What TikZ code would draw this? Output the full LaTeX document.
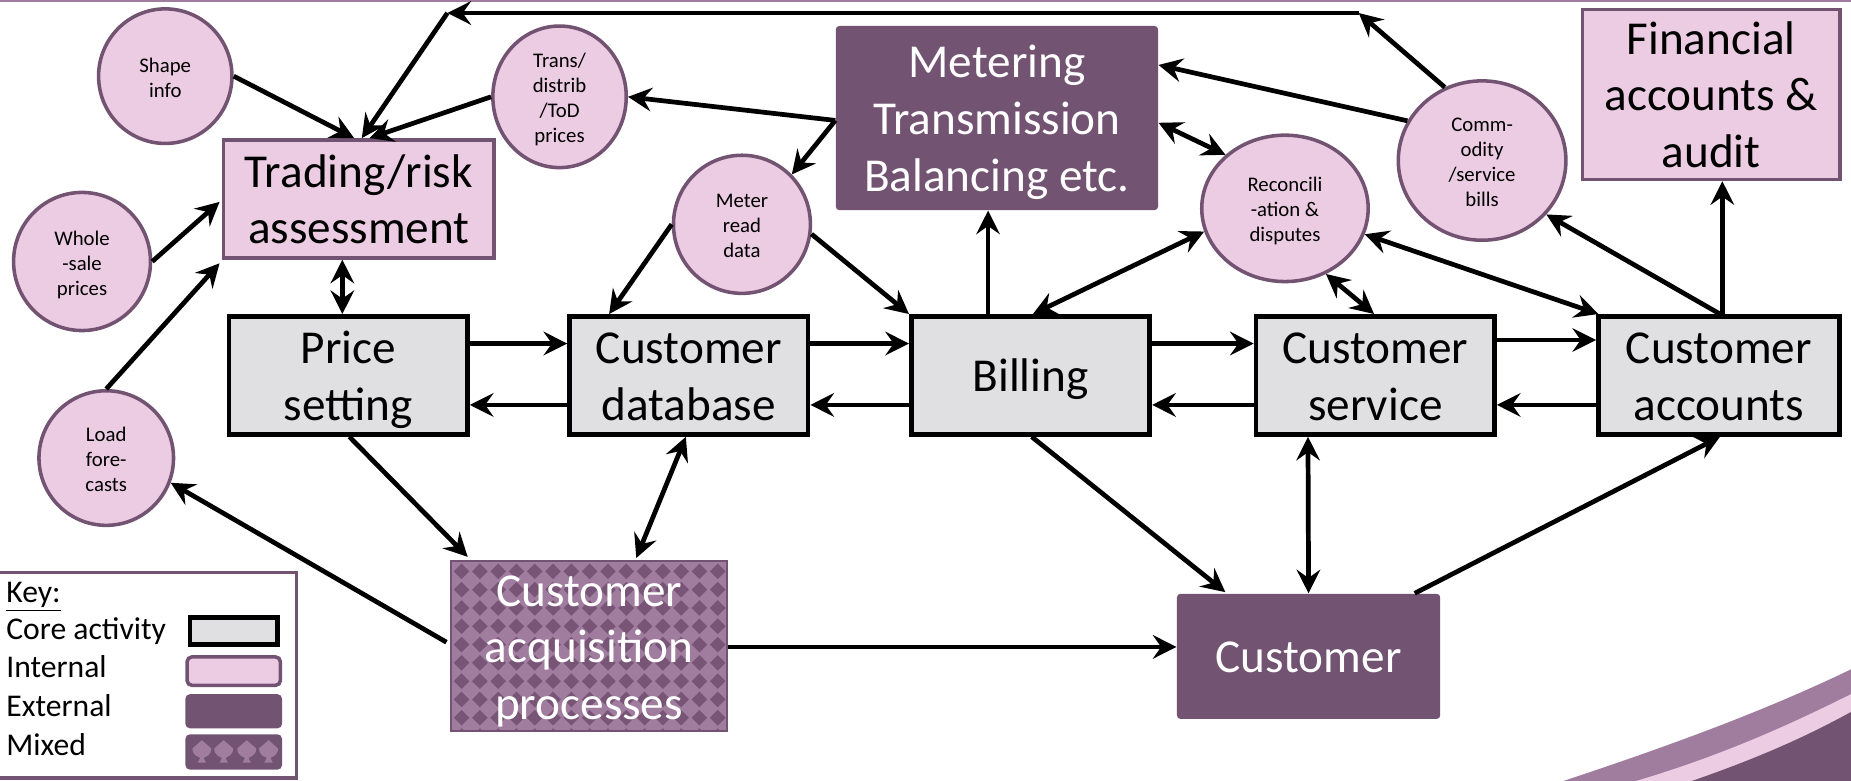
\documentclass[tikz,border=0pt]{standalone}
\usepackage{fontspec}
\setmainfont{Carlito}
\usetikzlibrary{shapes.geometric,arrows.meta,calc}
\definecolor{purpd}{RGB}{115,83,114}
\definecolor{pinkf}{RGB}{236,204,227}
\definecolor{coreg}{RGB}{224,224,226}
\definecolor{lightp}{RGB}{160,125,159}
\definecolor{dkdia}{RGB}{120,84,118}
\newcommand{\fbig}{\fontsize{20}{24}\selectfont}
\newcommand{\fsmall}{\fontsize{8.8}{10.6}\selectfont}
\newcommand{\fkey}{\fontsize{13.4}{16.4}\selectfont}
\newcommand{\ml}[1]{\raisebox{-2.2pt}[\height][\depth]{\begin{tabular}{@{}c@{}}#1\end{tabular}}}
\newcommand{\mlb}[1]{\raisebox{-1.5pt}[\height][\depth]{\begin{tabular}{@{}c@{}}#1\end{tabular}}}
\begin{document}
\begin{tikzpicture}[x=0.5pt,y=-0.5pt,
  core/.style={rectangle,draw=black,line width=2pt,fill=coreg,inner sep=0pt,font=\fbig},
  intbox/.style={rectangle,draw=purpd,line width=1.5pt,fill=pinkf,inner sep=0pt,font=\fbig},
  extbox/.style={rectangle,fill=purpd,text=white,rounded corners=1.5pt,inner sep=0pt,font=\fbig},
  bubble/.style={ellipse,draw=purpd,line width=1.5pt,fill=pinkf,inner sep=0pt,font=\fsmall},
  keytxt/.style={anchor=base west,inner sep=0pt,font=\fkey},
  arr/.style={line width=2pt,-{Stealth[length=10pt,width=10pt,inset=3.5pt]}},
  darr/.style={line width=2pt,{Stealth[length=10pt,width=10pt,inset=3.5pt]}-{Stealth[length=10pt,width=10pt,inset=3.5pt]}},
  mixedbox/.style={rectangle,fill=lightp,draw=purpd,line width=0.8pt,text=white,inner sep=0pt,font=\fbig,
    path picture={
      \foreach \r in {-1,...,10}{
        \foreach \c in {-1,...,16}{
          \pgfmathsetmacro\xx{9+\c*15.5}
          \pgfmathsetmacro\yy{8.5+\r*15.5}
          \fill[dkdia] ($(path picture bounding box.north west)+(\xx,\yy-6.6)$)
            -- ($(path picture bounding box.north west)+(\xx+6.6,\yy)$)
            -- ($(path picture bounding box.north west)+(\xx,\yy+6.6)$)
            -- ($(path picture bounding box.north west)+(\xx-6.6,\yy)$) -- cycle;
        }
      }
    }}
]
\useasboundingbox (0,0) rectangle (1568,661);
\fill[white] (0,0) rectangle (1568,661);
% top rule
\draw[lightp,line width=0.8pt] (0,0.8) -- (1568,0.8);
% bottom-right swoosh
\fill[lightp] (1320,663) .. controls (1420,630) and (1500,600) .. (1570,566) -- (1570,663) -- cycle;
\fill[pinkf] (1381,663) .. controls (1460,640) and (1520,612) .. (1570,587) -- (1570,663) -- cycle;
\fill[purpd] (1429,663) .. controls (1490,642) and (1530,624) .. (1570,602) -- (1570,663) -- cycle;

% core activities
\node[core,minimum width=101pt,minimum height=50pt] (price) at (295,318) {\ml{Price\\setting}};
\node[core,minimum width=101pt,minimum height=50pt] (db) at (583.5,318) {\ml{Customer\\database}};
\node[core,minimum width=101pt,minimum height=50pt] (billing) at (873,318) {\ml{Billing}};
\node[core,minimum width=101pt,minimum height=50pt] (cs) at (1165,318) {\ml{Customer\\service}};
\node[core,minimum width=102pt,minimum height=50pt] (acc) at (1456,318) {\ml{Customer\\accounts}};
% internal boxes
\node[intbox,minimum width=114.5pt,minimum height=50pt] (trading) at (304,168.5) {\ml{Trading/risk\\assessment}};
\node[intbox,minimum width=109pt,minimum height=66.5pt] (financial) at (1449.5,80) {\ml{Financial\\accounts \&\\audit}};
% external
\node[extbox,minimum width=136.5pt,minimum height=78pt] (metering) at (844.5,100) {\ml{Metering\\Transmission\\Balancing etc.}};
\node[extbox,minimum width=111.5pt,minimum height=53pt] (customer) at (1108.5,556) {\ml{Customer}};
% mixed
\node[mixedbox,minimum width=117pt,minimum height=68.5pt] (acq) at (499,547.5) {\ml{Customer\\acquisition\\processes}};
% bubbles
\node[bubble,minimum width=56.5pt,minimum height=57pt] (shape) at (140,64.5) {\mlb{Shape\\info}};
\node[bubble,minimum width=56.5pt,minimum height=57pt] (trans) at (474,82) {\mlb{Trans/\\distrib\\/ToD\\prices}};
\node[bubble,minimum width=58pt,minimum height=58.5pt] (whole) at (69.5,221.5) {\mlb{Whole\\-sale\\prices}};
\node[bubble,minimum width=57pt,minimum height=57pt] (load) at (90,388) {\mlb{Load\\fore-\\casts}};
\node[bubble,minimum width=58pt,minimum height=58.5pt] (meter) at (628.5,190) {\mlb{Meter\\read\\data}};
\node[bubble,minimum width=70.5pt,minimum height=62pt] (recon) at (1088.5,176.5) {\mlb{Reconcili\\-ation \&\\disputes}};
\node[bubble,minimum width=71pt,minimum height=67.5pt] (comm) at (1255.5,136) {\mlb{Comm-\\odity\\/service\\bills}};

\coordinate (TL) at (379,11);
\coordinate (TR) at (1151,11);

% connectors
\draw[arr] (comm.117) -- (TR);
\draw[arr] (TR) -- (TL);
\draw[arr] (TL) -- ($(trading.north)+(2.5,0)$);
\draw[arr] (shape.east) -- ($(trading.north)+(-4,0)$);
\draw[arr] (trans.west) -- ($(trading.north)+(9,0)$);
\draw[arr] ($(metering.west)+(0,2)$) -- (trans.east);
\draw[arr] ($(metering.west)+(0,2)$) -- (meter.45);
\draw[arr] (meter.west) -- ($(db.north)+(-67.5,0)$);
\draw[arr] (meter.-8) -- (billing.north west);
\draw[arr] ($(billing.north)+(-36,0)$) -- ($(metering.south)+(-7.5,0)$);
\draw[darr] ($(billing.north)+(2,0)$) -- (recon.196);
\draw[darr] ($(metering.east)+(0,4)$) -- (recon.138);
\draw[arr] (comm.152) -- ($(metering.east)+(0,-45)$);
\draw[darr] (recon.-58) -- ($(cs.north)+(-1,0)$);
\draw[darr] ($(acc.north west)+(2,0)$) -- (recon.-18);
\draw[arr] ($(acc.north)+(1,0)$) -- (comm.-40);
\draw[arr] ($(acc.north)+(3,0)$) -- ($(financial.south)+(9.5,0)$);
\draw[darr] ($(trading.south)+(-14,0)$) -- ($(price.north)+(-5,0)$);
\draw[arr] (whole.east) -- ($(trading.west)+(-2,2.5)$);
\draw[arr] (load.north) -- ($(trading.south west)+(-2,3)$);
\draw[arr] ($(acq.west)+(-3,-3.5)$) -- (load.-21);
\draw[arr] ($(price.south)+(1,0)$) -- ($(acq.north west)+(15,-3)$);
\draw[darr] ($(db.south)+(-2.5,0)$) -- ($(acq.north)+(40,-2)$);
\draw[arr] ($(acq.east)+(0,0.5)$) -- ($(customer.west)+(0,-8)$);
\draw[arr] ($(billing.south)+(1,0)$) -- ($(customer.north)+(-70.5,-1)$);
\draw[darr] ($(cs.south)+(-57,0)$) -- ($(customer.north)+(0,0)$);
\draw[arr] ($(customer.north east)+(-22,0)$) -- ($(acc.south)+(1,0)$);
% horizontal core links
\draw[arr] ($(price.east)+(0,-27)$) -- ($(db.west)+(0,-27)$);
\draw[arr] ($(db.west)+(0,25)$) -- ($(price.east)+(0,25)$);
\draw[arr] ($(db.east)+(0,-27)$) -- ($(billing.west)+(0,-27)$);
\draw[arr] ($(billing.west)+(0,25)$) -- ($(db.east)+(0,25)$);
\draw[arr] ($(billing.east)+(0,-27)$) -- ($(cs.west)+(0,-27)$);
\draw[arr] ($(cs.west)+(0,25)$) -- ($(billing.east)+(0,25)$);
\draw[arr] ($(cs.east)+(0,-30)$) -- ($(acc.west)+(0,-30)$);
\draw[arr] ($(acc.west)+(0,25)$) -- ($(cs.east)+(0,25)$);

% key
\draw[purpd,line width=1.5pt,fill=white] (-2,485) rectangle (251,659);
\node[keytxt] (kkey) at (5,510) {\underline{Key:}};
\node[keytxt] (kcore) at (5,542) {Core activity};
\node[keytxt] (kint) at (5,574) {Internal};
\node[keytxt] (kext) at (5,607) {External};
\node[keytxt] (kmix) at (5,640) {Mixed};
\node[core,minimum width=37pt,minimum height=11.5pt] (score) at (198,534.5) {};
\node[intbox,rounded corners=2pt,minimum width=39.5pt,minimum height=12pt] (sint) at (198,568.5) {};
\node[extbox,rounded corners=2pt,minimum width=41pt,minimum height=14.5pt] (sext) at (198,602.5) {};
\node[extbox,rounded corners=2pt,minimum width=41pt,minimum height=15pt] (smix) at (198,637) {};
\foreach \cx in {171,189.5,209,227.5}{
  \fill[lightp] (\cx,627) -- (\cx+8,634) .. controls (\cx+8,640) and (\cx+3,641) .. (\cx+1.5,642)
    -- (\cx+3.5,646) -- (\cx-3.5,646) -- (\cx-1.5,642) .. controls (\cx-3,641) and (\cx-8,640) .. (\cx-8,634) -- cycle;
}
\end{tikzpicture}
\end{document}
